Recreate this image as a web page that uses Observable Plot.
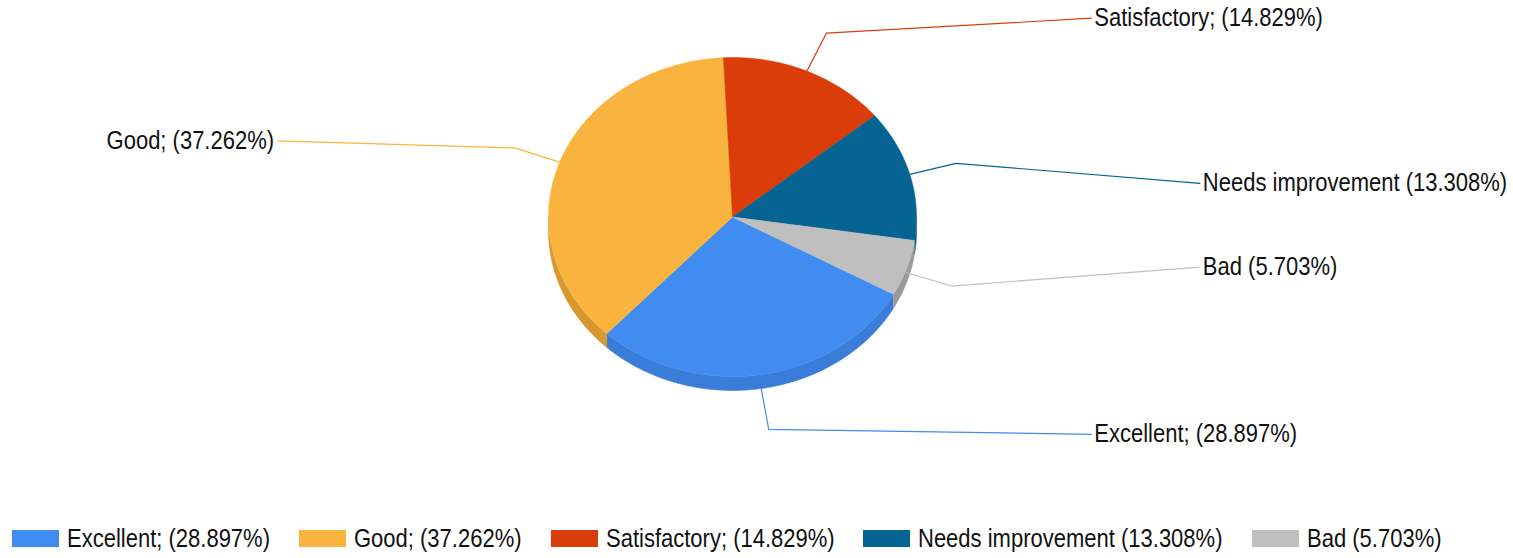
<!DOCTYPE html>
<html><head><meta charset="utf-8">
<script src="https://cdn.jsdelivr.net/npm/d3@7"></script>
<script src="https://cdn.jsdelivr.net/npm/@observablehq/plot@0.6"></script>
<style>
html,body{margin:0;padding:0;background:#fff;overflow:hidden;}
body{font-family:"Liberation Sans",Arial,sans-serif;}
#legend{display:flex;align-items:center;height:40px;padding-left:12px;font-size:25px;color:#111;white-space:nowrap;}
.item{display:flex;align-items:center;margin-right:29px;}
.sw{width:47px;height:17px;margin-right:8px;flex:none;}
.tx{display:inline-block;transform-origin:0 50%;}
</style></head><body>
<div id="chart"></div>
<div id="legend"></div>
<script>
// ---- data ----
const categories = ["Excellent", "Good", "Satisfactory", "Needs improvement", "Bad"];
const shares = [28.897, 37.262, 14.829, 13.308, 5.703];
const labels = ["Excellent; (28.897%)", "Good; (37.262%)", "Satisfactory; (14.829%)", "Needs improvement (13.308%)", "Bad (5.703%)"];

// ---- styles ----
const topColors = ["#418CF0", "#F9B440", "#DB3D0A", "#056492", "#BFBFBF"];
const sideColors = ["#3A7DD8", "#D8982F", "#B8330A", "#044F74", "#9A9A9A"];

// ---- layout ----
const W = 1513, H = 518;
const cx = 732, cy = 216.5, rx = 184, ry = 159.5, depth = 14;
const startDeg = 119;          // pie start angle (clockwise from 12 o'clock)
const elbowK = 1.26;           // leader elbow radius factor
const labelShift = [5, -7, -15, 20, -19]; // label vertical nudge from elbow
const FONT = 25, SQUEEZE = 0.88;

const rad = d => d * Math.PI / 180;
const rows = categories.map((c, i) => ({name: c, share: shares[i], label: labels[i], i}));
const arcs = d3.pie().sort(null).value(d => d.share)
  .startAngle(rad(startDeg)).endAngle(rad(startDeg + 360))(rows);

const ex = a => cx + rx * Math.sin(a);
const ey = a => cy - ry * Math.cos(a);
function arcPts(a0, a1) {
  const n = Math.max(2, Math.ceil((a1 - a0) / rad(0.5)));
  return d3.range(n + 1).map(k => a0 + (a1 - a0) * k / n);
}

// top faces
const tops = arcs.map(a => {
  const pts = [{x: cx, y: cy}].concat(arcPts(a.startAngle, a.endAngle).map(t => ({x: ex(t), y: ey(t)})));
  pts.push({x: cx, y: cy});
  return {i: a.data.i, pts};
});

// side walls (visible where the rim faces the viewer)
const sides = [];
arcs.forEach(a => {
  [[rad(90), rad(270)], [rad(450), rad(630)]].forEach(([v0, v1]) => {
    const s = Math.max(a.startAngle, v0), e = Math.min(a.endAngle, v1);
    if (e > s) {
      const ts = arcPts(s, e);
      const pts = ts.map(t => ({x: ex(t), y: ey(t)}))
        .concat(ts.slice().reverse().map(t => ({x: ex(t), y: ey(t) + depth})));
      sides.push({i: a.data.i, pts});
    }
  });
});

// leader lines + labels
const leaders = arcs.map(a => {
  const m = (a.startAngle + a.endAngle) / 2;
  const s = Math.sin(m), c = Math.cos(m);
  const drop = depth * Math.max(0, -c);
  const p0 = {x: cx + rx * s, y: cy - ry * c + drop};
  const p1 = {x: cx + elbowK * rx * s, y: cy - elbowK * ry * c + drop};
  const right = s >= 0;
  const far = Math.abs(s) > 0.9 ? (right ? 2.54 : 2.47) : 1.95;
  const p2 = {x: cx + (right ? 1 : -1) * far * rx, y: p1.y + labelShift[a.data.i]};
  return {i: a.data.i, right, pts: [p0, p1, p2], label: a.data.label};
});

const marks = [];
sides.forEach(sd => marks.push(Plot.line(sd.pts, {x: "x", y: "y", fill: sideColors[sd.i], stroke: sideColors[sd.i], strokeWidth: 0.5})));
tops.forEach(tp => marks.push(Plot.line(tp.pts, {x: "x", y: "y", fill: topColors[tp.i], stroke: topColors[tp.i], strokeWidth: 0.5})));
leaders.forEach(ld => marks.push(Plot.line(ld.pts, {x: "x", y: "y", stroke: topColors[ld.i], strokeWidth: 1.2})));
marks.push(Plot.text(leaders.filter(d => d.right), {x: d => d.pts[2].x, y: d => d.pts[2].y, text: "label", textAnchor: "start", dx: 3, lineAnchor: "middle", fontSize: FONT, fill: "#111"}));
marks.push(Plot.text(leaders.filter(d => !d.right), {x: d => d.pts[2].x, y: d => d.pts[2].y, text: "label", textAnchor: "end", dx: -4, lineAnchor: "middle", fontSize: FONT, fill: "#111"}));

const chart = Plot.plot({
  width: W, height: H, margin: 0,
  x: {domain: [0, W], range: [0, W], axis: null},
  y: {domain: [0, H], range: [0, H], axis: null},
  style: {fontFamily: '"Liberation Sans",Arial,sans-serif', background: "#fff"},
  marks
});
document.getElementById("chart").appendChild(chart);

// narrow the label glyphs horizontally around their anchor (reference uses a condensed face)
chart.querySelectorAll("text").forEach(t => {
  const bb = t.getBBox();
  const anchor = getComputedStyle(t).textAnchor;
  const ax = anchor === "end" ? bb.x + bb.width : anchor === "middle" ? bb.x + bb.width / 2 : bb.x;
  const tr = t.getAttribute("transform") || "";
  t.setAttribute("transform", `${tr} translate(${ax},0) scale(${SQUEEZE},1) translate(${-ax},0)`.trim());
});

// legend
const lg = document.getElementById("legend");
rows.forEach(r => {
  const it = document.createElement("div"); it.className = "item";
  const sw = document.createElement("div"); sw.className = "sw"; sw.style.background = topColors[r.i];
  const tx = document.createElement("span"); tx.className = "tx"; tx.textContent = r.label;
  it.appendChild(sw); it.appendChild(tx); lg.appendChild(it);
  const w = tx.getBoundingClientRect().width;
  tx.style.transform = `scaleX(${SQUEEZE})`;
  tx.style.marginRight = `${-(1 - SQUEEZE) * w}px`;
});
</script>
</body></html>
